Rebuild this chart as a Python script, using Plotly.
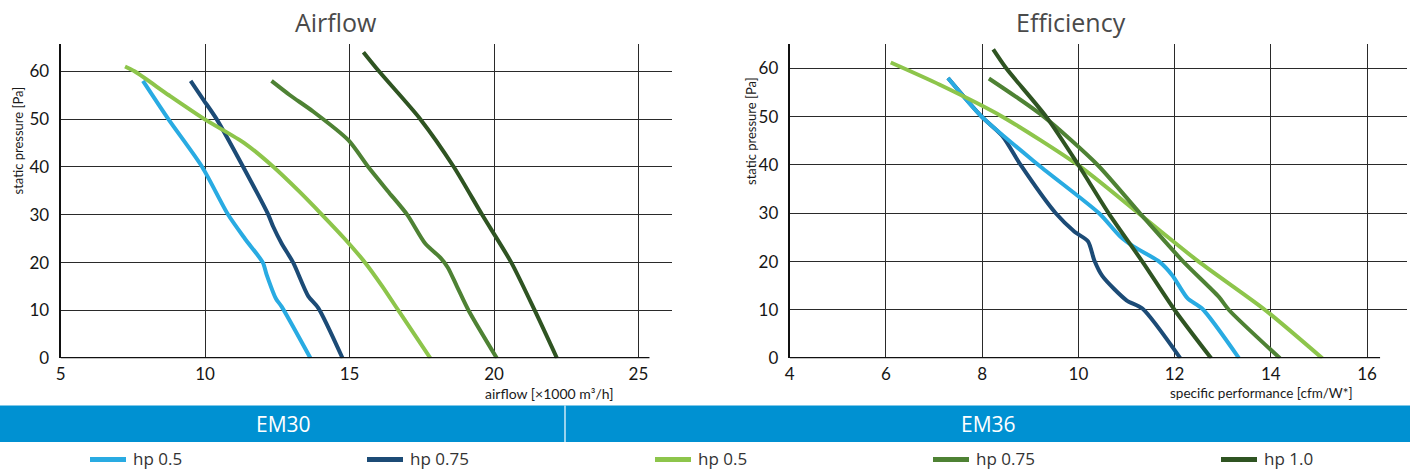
import plotly.graph_objects as go

W, H = 1410, 470

# ---------------- Data ----------------
# Airflow chart: x = airflow [x1000 m3/h], y = static pressure [Pa]
af_em30_hp05_p = [58, 50, 40, 30, 25, 20, 17.5, 12.5, 10.8, 0]
af_em30_hp05_q = [7.85, 8.73, 9.9, 10.8, 11.38, 12.0, 12.13, 12.45, 12.65, 13.65]

af_em30_hp075_p = [58, 54, 50, 40, 30, 27.5, 24, 20, 13, 10.5, 0]
af_em30_hp075_q = [9.5, 9.95, 10.4, 11.32, 12.19, 12.36, 12.65, 13.05, 13.57, 13.92, 14.76]

af_em36_hp05_p = [61, 60, 55, 50, 45, 40, 35, 30, 25, 20, 15, 10, 0]
af_em36_hp05_q = [7.23, 7.56, 8.75, 9.98, 11.36, 12.37, 13.24, 14.05, 14.83, 15.54, 16.14, 16.69, 17.8]

af_em36_hp075_p = [58, 55, 51.6, 45.6, 40, 35, 30, 24, 21, 19, 15, 10, 0]
af_em36_hp075_q = [12.3, 12.94, 13.74, 14.96, 15.65, 16.32, 17.0, 17.62, 18.15, 18.4, 18.72, 19.12, 20.1]

af_em36_hp10_p = [64, 60, 50, 40, 30, 20, 10, 0]
af_em36_hp10_q = [15.48, 16.02, 17.45, 18.61, 19.59, 20.6, 21.41, 22.18]

# Efficiency chart: x = specific performance [cfm/W*], y = static pressure [Pa]
ef_em30_hp05_p = [58, 50, 40, 30, 25.2, 23.1, 20, 17.2, 12.4, 10.3, 0]
ef_em30_hp05_q = [7.29, 7.99, 9.17, 10.43, 10.87, 11.15, 11.68, 11.95, 12.27, 12.57, 13.34]

ef_em30_hp075_p = [58, 50, 46, 40, 30, 26.2, 24.2, 20.3, 17, 12, 10.3, 0]
ef_em30_hp075_q = [7.29, 7.99, 8.42, 8.8, 9.53, 9.92, 10.2, 10.33, 10.5, 11.0, 11.33, 12.12]

ef_em36_hp05_p = [61.2, 56.6, 50, 40, 30, 20, 10, 0]
ef_em36_hp05_q = [6.1, 7.12, 8.42, 9.99, 11.25, 12.5, 13.88, 15.07]

ef_em36_hp075_p = [57.9, 50, 40, 30, 20, 12.7, 10, 0]
ef_em36_hp075_q = [8.14, 9.28, 10.4, 11.28, 12.18, 12.92, 13.13, 14.19]

ef_em36_hp10_p = [63.9, 60, 50, 40, 30, 20, 10, 0]
ef_em36_hp10_q = [8.23, 8.5, 9.33, 10.0, 10.63, 11.33, 12.0, 12.76]

# Tick values / labels
af_xticks = [5, 10, 15, 20, 25]
ef_xticks = [4, 6, 8, 10, 12, 14, 16]
p_ticks = [0, 10, 20, 30, 40, 50, 60]

series_names = ["hp 0.5", "hp 0.75", "hp 0.5", "hp 0.75", "hp 1.0"]
models = ["EM30", "EM36"]

# ---------------- Styling ----------------
colors = ["#29ABE2", "#1C4B76", "#8DC54B", "#4E8234", "#2F5422"]
series = [
    (series_names[0], colors[0], af_em30_hp05_q, af_em30_hp05_p, ef_em30_hp05_q, ef_em30_hp05_p, 2),
    (series_names[1], colors[1], af_em30_hp075_q, af_em30_hp075_p, ef_em30_hp075_q, ef_em30_hp075_p, 1),
    (series_names[2], colors[2], af_em36_hp05_q, af_em36_hp05_p, ef_em36_hp05_q, ef_em36_hp05_p, 3),
    (series_names[3], colors[3], af_em36_hp075_q, af_em36_hp075_p, ef_em36_hp075_q, ef_em36_hp075_p, 4),
    (series_names[4], colors[4], af_em36_hp10_q, af_em36_hp10_p, ef_em36_hp10_q, ef_em36_hp10_p, 5),
]

fig = go.Figure()
for (name, col, aq, ap, eq, ep, order) in sorted(series, key=lambda s: s[6]):
    ln = dict(color=col, width=4, shape="spline", smoothing=0.7)
    fig.add_trace(go.Scatter(x=aq, y=ap, mode="lines", name=name, line=ln,
                             showlegend=False, xaxis="x", yaxis="y", hoverinfo="skip"))
    fig.add_trace(go.Scatter(x=eq, y=ep, mode="lines", name=name, line=ln,
                             showlegend=False, xaxis="x2", yaxis="y2", hoverinfo="skip"))


def px(x):
    return x / W


def py(y):
    return 1 - y / H


tick_font = dict(family="Lato, sans-serif", size=17, color="#161616")
grid_col = "#2a2a2a"

y_dom = [py(358.3), py(44.3)]
fig.update_layout(
    width=W, height=H,
    margin=dict(l=0, r=0, t=0, b=0, autoexpand=False),
    paper_bgcolor="white", plot_bgcolor="white",
    showlegend=False,
    xaxis=dict(domain=[px(60.6), px(672)], range=[5, 26.16], tickvals=af_xticks,
               showgrid=True, gridcolor=grid_col, gridwidth=1, zeroline=False,
               showline=False, ticks="", tickfont=tick_font, anchor="y",
               ticklabelstandoff=4),
    yaxis=dict(domain=y_dom, range=[0, 65.65], tickvals=p_ticks,
               showgrid=True, gridcolor=grid_col, gridwidth=1, zeroline=False,
               showline=True, linecolor="#111", linewidth=2, ticks="",
               tickfont=tick_font, anchor="x", ticklabelstandoff=6),
    xaxis2=dict(domain=[px(789.7), px(1407)], range=[4, 16.83], tickvals=ef_xticks,
                showgrid=True, gridcolor=grid_col, gridwidth=1, zeroline=False,
                showline=False, ticks="", tickfont=tick_font, anchor="y2",
                ticklabelstandoff=4),
    yaxis2=dict(domain=y_dom, range=[0, 64.97], tickvals=p_ticks,
                showgrid=True, gridcolor=grid_col, gridwidth=1, zeroline=False,
                showline=True, linecolor="#111", linewidth=2, ticks="",
                tickfont=tick_font, anchor="x2", ticklabelstandoff=6),
)

shapes = [
    # thick bottom axis lines
    dict(type="line", xref="x", yref="y", x0=5, x1=25.38, y0=0, y1=0,
         line=dict(color="#111", width=2.5)),
    dict(type="line", xref="x2", yref="y2", x0=4, x1=16.27, y0=0, y1=0,
         line=dict(color="#111", width=2.5)),
    # banner
    dict(type="rect", xref="paper", yref="paper", x0=0, x1=1, y0=py(442), y1=py(405.5),
         fillcolor="#0091D2", line=dict(width=0), layer="below"),
    dict(type="line", xref="paper", yref="paper", x0=px(565), x1=px(565), y0=py(442), y1=py(405.5),
         line=dict(color="white", width=1.2)),
]

title_font = dict(family="Open Sans, sans-serif", size=25, color="#4a4a4a")
axt_font = dict(family="Lato, sans-serif", size=13, color="#1a1a1a")
annotations = [
    dict(text="Airflow", x=px(336), y=py(22), xref="paper", yref="paper",
         showarrow=False, font=title_font, xanchor="center", yanchor="middle"),
    dict(text="Efficiency", x=px(1071), y=py(22), xref="paper", yref="paper",
         showarrow=False, font=title_font, xanchor="center", yanchor="middle"),
    dict(text="static pressure [Pa]", x=px(17.5), y=py(141), xref="paper", yref="paper",
         showarrow=False, font=axt_font, textangle=-90, xanchor="center", yanchor="middle"),
    dict(text="static pressure [Pa]", x=px(751.5), y=py(131.5), xref="paper", yref="paper",
         showarrow=False, font=axt_font, textangle=-90, xanchor="center", yanchor="middle"),
    dict(text="airflow [×1000 m³/h]", x=px(615), y=py(393), xref="paper", yref="paper",
         showarrow=False, font=dict(family="Lato, sans-serif", size=14, color="#1a1a1a"),
         xanchor="right", yanchor="middle"),
    dict(text="specific performance [cfm/W*]", x=px(1355), y=py(393), xref="paper", yref="paper",
         showarrow=False, font=dict(family="Lato, sans-serif", size=13.5, color="#1a1a1a"),
         xanchor="right", yanchor="middle"),
    dict(text=models[0], x=px(283), y=py(424), xref="paper", yref="paper",
         showarrow=False, font=dict(family="Open Sans, sans-serif", size=21, color="white"),
         xanchor="center", yanchor="middle"),
    dict(text=models[1], x=px(988), y=py(424), xref="paper", yref="paper",
         showarrow=False, font=dict(family="Open Sans, sans-serif", size=21, color="white"),
         xanchor="center", yanchor="middle"),
]

# Legend row (built from series names / colours)
legend_x = [90, 367, 655, 933, 1221]
legend_y = 458.5
for (name, col, *_), lx in zip(series, legend_x):
    shapes.append(dict(type="line", xref="paper", yref="paper",
                       x0=px(lx), x1=px(lx + 36), y0=py(legend_y + 1), y1=py(legend_y + 1),
                       line=dict(color=col, width=5)))
    annotations.append(dict(text=name, x=px(lx + 42), y=py(legend_y), xref="paper", yref="paper",
                            showarrow=False, xanchor="left", yanchor="middle", borderpad=0,
                            font=dict(family="Open Sans, sans-serif", size=17, color="#333")))

fig.update_layout(shapes=shapes, annotations=annotations)

fig.write_html("out.html", config={"displayModeBar": False, "staticPlot": True},
               post_script="document.body.style.margin='0';document.body.style.overflow='hidden';")
